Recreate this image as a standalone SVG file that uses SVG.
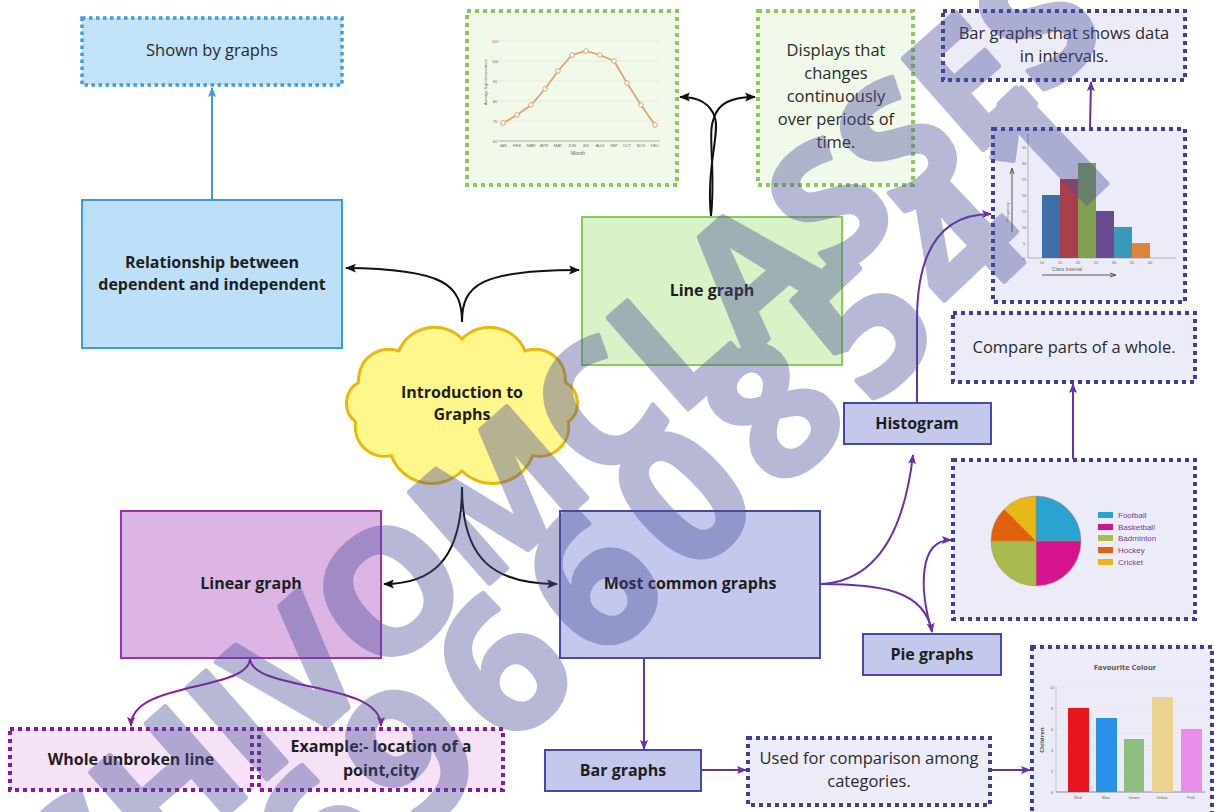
<svg xmlns="http://www.w3.org/2000/svg" width="1214" height="812" viewBox="0 0 1214 812">
<defs>
<style>
.t{font-family:"Open Sans","Liberation Sans",sans-serif;fill:#1e1e1e;text-anchor:middle}
.b{font-weight:700;font-size:16px}
.r{font-size:16.5px;fill:#2a2a2a}
.tiny{font-family:"Liberation Sans",sans-serif;fill:#666;font-size:4px;text-anchor:middle}
.leg{font-family:"Liberation Sans",sans-serif;fill:#7a3a9a;font-size:8px}
.blueS{fill:#bde0f8;stroke:#3d9be0;stroke-width:2}
.blueD{fill:#c2e2f8;stroke:#3d9be0;stroke-width:3.5;stroke-dasharray:3.5 3.5}
.greenS{fill:#d9f2c8;stroke:#8cca5a;stroke-width:2}
.greenD{fill:#f1f9ea;stroke:#8cc85a;stroke-width:4;stroke-dasharray:4 4}
.navyS{fill:#c4c8ec;stroke:#4848a8;stroke-width:2}
.navyD{fill:#ececf8;stroke:#3f3f95;stroke-width:4;stroke-dasharray:4 4}
.purS{fill:#dcb5e5;stroke:#9b30b0;stroke-width:2}
.purD{fill:#f5e2f7;stroke:#8a1a9c;stroke-width:4;stroke-dasharray:4 4}
.cb{fill:none;stroke:#111;stroke-width:2}
.cblue{fill:none;stroke:#3d9be0;stroke-width:2}
.cpur{fill:none;stroke:#6a30a8;stroke-width:2}
.cmag{fill:none;stroke:#8a1a9c;stroke-width:2}
.wm{font-family:"Open Sans","Liberation Sans",sans-serif;font-weight:700;fill:#4a4f9a;stroke:#4a4f9a;stroke-width:5;stroke-linejoin:round}
</style>
<marker id="ab" viewBox="0 0 10 10" refX="9" refY="5" markerWidth="11" markerHeight="11" markerUnits="userSpaceOnUse" orient="auto"><path d="M0,1 L10,5 L0,9 L2,5 Z" fill="#111"/></marker>
<marker id="abl" viewBox="0 0 10 10" refX="9" refY="5" markerWidth="10" markerHeight="10" markerUnits="userSpaceOnUse" orient="auto"><path d="M0,1 L10,5 L0,9 L2,5 Z" fill="#3d9be0"/></marker>
<marker id="ap" viewBox="0 0 10 10" refX="9" refY="5" markerWidth="10" markerHeight="10" markerUnits="userSpaceOnUse" orient="auto"><path d="M0,1 L10,5 L0,9 L2,5 Z" fill="#6a30a8"/></marker>
<marker id="am" viewBox="0 0 10 10" refX="9" refY="5" markerWidth="10" markerHeight="10" markerUnits="userSpaceOnUse" orient="auto"><path d="M0,1 L10,5 L0,9 L2,5 Z" fill="#8a1a9c"/></marker>
</defs>
<rect width="1214" height="812" fill="#ffffff"/>

<g id="connectors">
<path class="cblue" d="M212,200 L212,88" marker-end="url(#abl)"/>
<path class="cb" d="M462,322 C462,285 445,269 346,268" marker-end="url(#ab)"/>
<path class="cb" d="M462,322 C462,285 480,270 579,270" marker-end="url(#ab)"/>
<path class="cb" d="M462,487 C462,560 432,584 384,584" marker-end="url(#ab)"/>
<path class="cb" d="M462,487 C462,560 494,584 557,584" marker-end="url(#ab)"/>
<path class="cb" d="M711,216 C706,170 720,132 715,118 C711,104 700,97 680,97" marker-end="url(#ab)"/>
<path class="cb" d="M711,216 C716,170 707,132 714,118 C718,104 730,97 755,97" marker-end="url(#ab)"/>
<path class="cmag" d="M250,658 C250,692 131,680 131,726" marker-end="url(#am)"/>
<path class="cmag" d="M250,658 C250,692 381,680 381,726" marker-end="url(#am)"/>
<path class="cpur" d="M820,584 C872,582 903,540 913,455" marker-end="url(#ap)"/>
<path class="cpur" d="M820,584 C880,584 925,590 932,632" marker-end="url(#ap)"/>
<path class="cpur" d="M931,628 C920,590 918,540 951,540" marker-end="url(#ap)"/>
<path class="cpur" d="M917,403 L917,320 C917,260 935,214 991,214" marker-end="url(#ap)"/>
<path class="cpur" d="M1090,128 L1091,82" marker-end="url(#ap)"/>
<path class="cpur" d="M1073,459 L1073,384" marker-end="url(#ap)"/>
<path class="cpur" d="M644,658 L644,749" marker-end="url(#ap)"/>
<path class="cpur" d="M701,770 L746,770" marker-end="url(#ap)"/>
<path class="cpur" d="M991,770 L1030,770" marker-end="url(#ap)"/>
</g>

<g id="shown-by-graphs">
<rect class="blueD" x="82" y="18" width="260" height="67"/>
<text class="t r" x="212" y="56">Shown by graphs</text>
</g>

<g id="relationship">
<rect class="blueS" x="82" y="200" width="260" height="148"/>
<text class="t b" x="212" y="268">Relationship between</text>
<text class="t b" x="212" y="290">dependent and independent</text>
</g>

<g id="intro">
<path d="M358.6,382.4 A30.6,30.6 0 0 1 398.9,350.9 A38.4,38.4 0 0 1 462,339 A38.4,38.4 0 0 1 525.1,350.9 A30.6,30.6 0 0 1 565.4,382.4 A24,24 0 0 1 568.3,422.1 A29.4,29.4 0 0 1 532.7,455.6 A43.2,43.2 0 0 1 462,471 A43.2,43.2 0 0 1 391.3,455.6 A29.4,29.4 0 0 1 355.7,422.1 A24,24 0 0 1 358.6,382.4 Z" fill="#fff68c" stroke="#e8b90c" stroke-width="3"/>
<text class="t b" x="462" y="398">Introduction to</text>
<text class="t b" x="462" y="420">Graphs</text>
</g>

<g id="line-graph">
<rect class="greenS" x="582" y="217" width="260" height="148"/>
<text class="t b" x="712" y="296">Line graph</text>
</g>

<g id="line-chart-image">
<rect class="greenD" x="467" y="11" width="210" height="174"/>
<g stroke="#dcdcdc" stroke-width="0.6">
<line x1="498" y1="41" x2="660" y2="41"/><line x1="498" y1="61" x2="660" y2="61"/><line x1="498" y1="81" x2="660" y2="81"/><line x1="498" y1="101" x2="660" y2="101"/><line x1="498" y1="121" x2="660" y2="121"/>
</g>
<line x1="498" y1="141" x2="660" y2="141" stroke="#999" stroke-width="0.8"/>
<text class="tiny" x="495" y="42.5">110</text><text class="tiny" x="495" y="62.5">100</text><text class="tiny" x="495" y="82.5">90</text><text class="tiny" x="495" y="102.5">80</text><text class="tiny" x="495" y="122.5">70</text><text class="tiny" x="495" y="142.5">60</text>
<text class="tiny" transform="translate(487,82) rotate(-90)">Average high temperature</text>
<g class="tiny"><text x="503" y="147">JAN</text><text x="517" y="147">FEB</text><text x="531" y="147">MAR</text><text x="544" y="147">APR</text><text x="558" y="147">MAY</text><text x="572" y="147">JUN</text><text x="586" y="147">JUL</text><text x="600" y="147">AUG</text><text x="614" y="147">SEP</text><text x="627" y="147">OCT</text><text x="641" y="147">NOV</text><text x="655" y="147">DEC</text></g>
<text class="tiny" x="578" y="155" style="font-size:5px">Month</text>
<polyline points="503,123 517,115 531,105 545,89 558,71 572,55 586,51 600,55 614,61 627,83 641,105 655,125" fill="none" stroke="#dca36e" stroke-width="1.8"/>
<g fill="#fff" stroke="#dca36e" stroke-width="1">
<circle cx="503" cy="123" r="2.3"/><circle cx="517" cy="115" r="2.3"/><circle cx="531" cy="105" r="2.3"/><circle cx="545" cy="89" r="2.3"/><circle cx="558" cy="71" r="2.3"/><circle cx="572" cy="55" r="2.3"/><circle cx="586" cy="51" r="2.3"/><circle cx="600" cy="55" r="2.3"/><circle cx="614" cy="61" r="2.3"/><circle cx="627" cy="83" r="2.3"/><circle cx="641" cy="105" r="2.3"/><circle cx="655" cy="125" r="2.3"/>
</g>
</g>

<g id="displays">
<rect class="greenD" x="758" y="11" width="155" height="174"/>
<text class="t r" x="836" y="56">Displays that</text>
<text class="t r" x="836" y="79">changes</text>
<text class="t r" x="836" y="102">continuously</text>
<text class="t r" x="836" y="125">over periods of</text>
<text class="t r" x="836" y="148">time.</text>
</g>

<g id="intervals">
<rect class="navyD" x="943" y="11" width="242" height="69"/>
<text class="t r" x="1064" y="39">Bar graphs that shows data</text>
<text class="t r" x="1064" y="62">in intervals.</text>
</g>

<g id="histogram-image">
<rect class="navyD" x="993" y="129" width="192" height="173"/>
<line x1="1028" y1="137" x2="1028" y2="258" stroke="#999" stroke-width="0.7"/>
<line x1="1028" y1="258" x2="1176" y2="258" stroke="#999" stroke-width="0.7"/>
<rect x="1042" y="195" width="18" height="63" fill="#3f6fa8"/>
<rect x="1060" y="179" width="18" height="79" fill="#a8404c"/>
<rect x="1078" y="163" width="18" height="95" fill="#7ea04f"/>
<rect x="1096" y="211" width="18" height="47" fill="#6a4b8f"/>
<rect x="1114" y="227" width="18" height="31" fill="#3a98b8"/>
<rect x="1132" y="243" width="18" height="15" fill="#e0823a"/>
<g class="tiny"><text x="1024" y="149">35</text><text x="1024" y="165">30</text><text x="1024" y="181">25</text><text x="1024" y="197">20</text><text x="1024" y="213">15</text><text x="1024" y="229">10</text><text x="1024" y="245">5</text><text x="1024" y="260">0</text><text x="1028" y="136">y</text>
<text x="1042" y="264">10</text><text x="1060" y="264">15</text><text x="1078" y="264">20</text><text x="1096" y="264">25</text><text x="1114" y="264">30</text><text x="1132" y="264">35</text><text x="1150" y="264">40</text>
<text x="1067" y="271" style="font-size:5px">Class Interval</text>
<text transform="translate(1009,212) rotate(-90)">Frequency</text></g>
<line x1="1042" y1="275" x2="1114" y2="275" stroke="#333" stroke-width="0.8"/>
<path d="M1110,273 L1116,275 L1110,277" fill="none" stroke="#333" stroke-width="0.8"/>
<line x1="1012" y1="232" x2="1012" y2="170" stroke="#333" stroke-width="0.8"/>
<path d="M1010,174 L1012,168 L1014,174" fill="none" stroke="#333" stroke-width="0.8"/>
</g>

<g id="compare">
<rect class="navyD" x="953" y="313" width="242" height="69"/>
<text class="t r" x="1074" y="353">Compare parts of a whole.</text>
</g>

<g id="histogram">
<rect class="navyS" x="844" y="403" width="147" height="41"/>
<text class="t b" x="917" y="429">Histogram</text>
</g>

<g id="pie-image">
<rect class="navyD" x="953" y="460" width="242" height="159"/>
<g stroke="#b98a5a" stroke-width="0.5">
<path d="M1036,541 L1036,496 A45,45 0 0 1 1081,541 Z" fill="#2aa3d0"/>
<path d="M1036,541 L1081,541 A45,45 0 0 1 1036,586 Z" fill="#d6138f"/>
<path d="M1036,541 L1036,586 A45,45 0 0 1 991,541 Z" fill="#a9bb4f"/>
<path d="M1036,541 L991,541 A45,45 0 0 1 1004.2,509.2 Z" fill="#e0620f"/>
<path d="M1036,541 L1004.2,509.2 A45,45 0 0 1 1036,496 Z" fill="#e8b818"/>
</g>
<rect x="1098" y="512" width="15" height="6" fill="#2aa3d0"/>
<rect x="1098" y="524" width="15" height="6" fill="#d6138f"/>
<rect x="1098" y="535" width="15" height="6" fill="#a9bb4f"/>
<rect x="1098" y="547" width="15" height="6" fill="#e0620f"/>
<rect x="1098" y="559" width="15" height="6" fill="#e8b818"/>
<text class="leg" x="1118" y="518">Football</text>
<text class="leg" x="1118" y="530">Basketball</text>
<text class="leg" x="1118" y="541">Badminton</text>
<text class="leg" x="1118" y="553">Hockey</text>
<text class="leg" x="1118" y="565">Cricket</text>
</g>

<g id="pie-graphs">
<rect class="navyS" x="863" y="634" width="138" height="41"/>
<text class="t b" x="932" y="660">Pie graphs</text>
</g>

<g id="bar-chart-image">
<rect class="navyD" x="1032" y="647" width="180" height="170"/>
<text x="1125" y="670" style="font-family:'Open Sans','Liberation Sans',sans-serif;font-weight:700;font-size:7.5px;fill:#555;text-anchor:middle">Favourite Colour</text>
<g stroke="#e6e6ee" stroke-width="0.6">
<line x1="1056" y1="687" x2="1205" y2="687"/><line x1="1056" y1="708" x2="1205" y2="708"/><line x1="1056" y1="729" x2="1205" y2="729"/><line x1="1056" y1="750" x2="1205" y2="750"/><line x1="1056" y1="771" x2="1205" y2="771"/>
</g>
<line x1="1056" y1="687" x2="1056" y2="792" stroke="#aaa" stroke-width="0.6"/>
<line x1="1056" y1="792" x2="1205" y2="792" stroke="#777" stroke-width="0.8"/>
<rect x="1068" y="708" width="21" height="84" fill="#e8141e"/>
<rect x="1096" y="718" width="21" height="74" fill="#2b90e8"/>
<rect x="1124" y="739" width="20" height="53" fill="#8fbf80"/>
<rect x="1152" y="697" width="21" height="95" fill="#ecd490"/>
<rect x="1181" y="729" width="21" height="63" fill="#e88ee8"/>
<g class="tiny"><text x="1052" y="689">10</text><text x="1052" y="710">8</text><text x="1052" y="731">6</text><text x="1052" y="752">4</text><text x="1052" y="773">2</text><text x="1052" y="794">0</text>
<text x="1078" y="799">Red</text><text x="1106" y="799">Blue</text><text x="1134" y="799">Green</text><text x="1162" y="799">Yellow</text><text x="1191" y="799">Pink</text></g>
<text transform="translate(1044,740) rotate(-90)" style="font-family:'Open Sans','Liberation Sans',sans-serif;font-weight:700;font-size:6px;fill:#555;text-anchor:middle">Children</text>
</g>

<g id="most-common">
<rect class="navyS" x="560" y="511" width="260" height="147"/>
<text class="t b" x="690" y="589">Most common graphs</text>
</g>

<g id="linear-graph">
<rect class="purS" x="121" y="511" width="260" height="147"/>
<text class="t b" x="251" y="589">Linear graph</text>
</g>

<g id="whole-unbroken">
<rect class="purD" x="10" y="729" width="242" height="61"/>
<text class="t b" x="131" y="765">Whole unbroken line</text>
</g>

<g id="example">
<rect class="purD" x="259" y="729" width="244" height="61"/>
<text class="t b" x="381" y="752">Example:- location of a</text>
<text class="t b" x="381" y="776">point,city</text>
</g>

<g id="bar-graphs">
<rect class="navyS" x="545" y="750" width="156" height="41"/>
<text class="t b" x="623" y="776">Bar graphs</text>
</g>

<g id="used-for">
<rect class="navyD" x="748" y="738" width="242" height="67"/>
<text class="t r" x="869" y="764">Used for comparison among</text>
<text class="t r" x="869" y="787">categories.</text>
</g>

<g id="watermark" opacity="0.4">
<text class="wm" transform="translate(50.4,888.4) rotate(-41.3)" x="0" y="60.7" font-size="170" letter-spacing="-2">SHIVOMCLASSES</text>
<text class="wm" transform="translate(191.5,961.4) rotate(-43.5)" x="0" y="66" font-size="185" letter-spacing="19">8696608541</text>
</g>
</svg>
